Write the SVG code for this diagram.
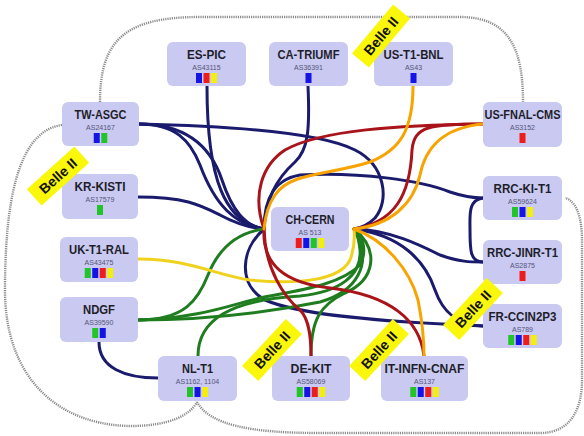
<svg xmlns="http://www.w3.org/2000/svg" width="584" height="436" viewBox="0 0 584 436">
<style>
.bg{fill:#ffffff}
.dot{fill:none;stroke:#8a8a8a;stroke-width:2.4;stroke-dasharray:1.2 1}
.c{fill:none;stroke-width:3;stroke-linecap:round}
.nv{stroke:#1b1b6e}
.rd{stroke:#a8141a}
.or{stroke:#f7a400}
.yl{stroke:#f0d21e}
.gr{stroke:#1f7d1f}
.node{fill:#c9c9f1}
.t{font-family:"Liberation Sans",Arial,sans-serif;font-weight:bold;font-size:13px;fill:#1e1e2a;text-anchor:middle}
.as{font-family:"Liberation Sans",Arial,sans-serif;font-size:7px;fill:#55557a;text-anchor:middle}
.g{fill:#22c42a}
.b{fill:#1414e6}
.r{fill:#ee1c1c}
.y{fill:#f2ee10}
.belle{fill:#fbf70a}
.bt{font-family:"Liberation Sans",Arial,sans-serif;font-weight:bold;font-size:14px;fill:#111;text-anchor:middle}
</style>
<rect class="bg" x="0" y="0" width="584" height="436"/>
<g id="outline">
<path class="dot" d="M100,102 C100,40 125,17 200,17 L460,17 C510,17 523,50 523,102"/>
<path class="dot" d="M62,125 C25,130 5,180 5,290 C5,380 60,425 130,426 C170,426 190,415 197,402"/>
<path class="dot" d="M197,402 C210,425 250,433 320,433 L540,433 C570,433 582,410 582,380 L582,240 C582,215 575,200 565,198"/>
</g>
<g id="connectors">
<path class="c nv" d="M207,86 C207,180 225,222 264,229"/>
<path class="c nv" d="M139,124 C175,124 190,140 200,165 C215,205 235,225 264,229"/>
<path class="c nv" d="M139,124 C190,124 212,150 222,180 C232,210 245,226 264,229"/>
<path class="c nv" d="M139,124 C230,126 320,132 355,150 C385,165 390,200 375,218 C368,225 360,228 354,229"/>
<path class="c nv" d="M138,197 C185,197 200,205 220,215 C235,223 250,228 264,229"/>
<path class="c nv" d="M264,229 C264,205 270,180 300,175 C360,172 420,180 450,192 C465,197 475,198 483,198"/>
<path class="c nv" d="M308,86 C310,130 308,150 295,162 C275,180 266,200 264,229"/>
<path class="c nv" d="M354,229 C390,230 420,245 440,255 C460,262 470,262 483,262"/>
<path class="c nv" d="M354,229 C400,235 425,260 435,290 C442,310 455,325 483,326"/>
<path class="c nv" d="M264,229 C240,250 238,285 265,300 C300,315 380,322 483,326"/>
<path class="c nv" d="M483,198 C468,200 470,215 470,230 C470,250 470,262 483,262"/>
<path class="c nv" d="M99,342 C99,368 125,378 158,378"/>
<path class="c gr" d="M138,320 C185,320 198,300 208,275 C220,245 240,232 264,229"/>
<path class="c gr" d="M138,320 C210,320 270,312 320,302 C355,292 375,265 354,229"/>
<path class="c gr" d="M138,320 C200,318 230,305 260,298 C300,290 340,285 360,265 C368,250 362,235 354,229"/>
<path class="c gr" d="M198,356 C198,320 230,300 300,296 C340,292 362,275 360,250 C359,240 357,233 354,229"/>
<path class="c gr" d="M311,356 C311,320 320,305 345,293 C375,280 380,250 354,229"/>
<path class="c yl" d="M138,259 C190,259 215,275 250,280 C300,285 340,280 350,260 C354,250 355,240 354,229"/>
<path class="c rd" d="M483,124 C400,125 320,130 285,150 C262,165 252,195 264,229"/>
<path class="c rd" d="M483,124 C430,124 414,126 412,150 C410,195 395,222 354,229"/>
<path class="c rd" d="M264,229 C262,265 285,283 330,288 C390,295 420,320 424,356"/>
<path class="c rd" d="M264,229 C265,270 285,298 300,310 C310,320 311,340 311,356"/>
<path class="c or" d="M413,86 C413,130 400,150 370,162 C330,175 290,172 275,195 C268,205 265,218 264,229"/>
<path class="c or" d="M483,124 C440,128 425,150 420,175 C413,205 390,225 354,229"/>
<path class="c or" d="M354,229 C385,240 410,270 418,300 C422,320 424,340 424,356"/>
</g>
<g id="es-pic"><rect class="node" x="167" y="42" width="79" height="44" rx="6"/><text class="t" x="206.5" y="59" textLength="39" lengthAdjust="spacingAndGlyphs">ES-PIC</text><text class="as" x="206.5" y="69.5">AS43115</text><rect class="b" x="196" y="73" width="6" height="10"/><rect class="r" x="203.5" y="73" width="6" height="10"/><rect class="y" x="211" y="73" width="6" height="10"/></g>
<g id="ca-triumf"><rect class="node" x="269" y="42" width="79" height="44" rx="6"/><text class="t" x="308.5" y="59" textLength="62" lengthAdjust="spacingAndGlyphs">CA-TRIUMF</text><text class="as" x="308.5" y="69.5">AS36391</text><rect class="b" x="305.5" y="73" width="6" height="10"/></g>
<g id="us-t1-bnl"><rect class="node" x="374" y="42" width="79" height="44" rx="6"/><text class="t" x="413.5" y="59" textLength="60" lengthAdjust="spacingAndGlyphs">US-T1-BNL</text><text class="as" x="413.5" y="69.5">AS43</text><rect class="b" x="410.5" y="73" width="6" height="10"/></g>
<g id="tw-asgc"><rect class="node" x="62" y="102" width="77" height="44" rx="6"/><text class="t" x="100.5" y="119" textLength="52" lengthAdjust="spacingAndGlyphs">TW-ASGC</text><text class="as" x="100.5" y="129.5">AS24167</text><rect class="b" x="93.75" y="133" width="6" height="10"/><rect class="g" x="101.25" y="133" width="6" height="10"/></g>
<g id="us-fnal-cms"><rect class="node" x="483" y="102" width="79" height="45" rx="6"/><text class="t" x="522.5" y="119" textLength="76" lengthAdjust="spacingAndGlyphs">US-FNAL-CMS</text><text class="as" x="522.5" y="129.5">AS3152</text><rect class="r" x="519.5" y="133" width="6" height="10"/></g>
<g id="kr-kisti"><rect class="node" x="62" y="174" width="76" height="45" rx="6"/><text class="t" x="100" y="191" textLength="51" lengthAdjust="spacingAndGlyphs">KR-KISTI</text><text class="as" x="100" y="201.5">AS17579</text><rect class="g" x="97" y="205" width="6" height="10"/></g>
<g id="uk-t1-ral"><rect class="node" x="60" y="237" width="78" height="45" rx="6"/><text class="t" x="99" y="254" textLength="60" lengthAdjust="spacingAndGlyphs">UK-T1-RAL</text><text class="as" x="99" y="264.5">AS43475</text><rect class="g" x="84.75" y="268" width="6" height="10"/><rect class="b" x="92.25" y="268" width="6" height="10"/><rect class="r" x="99.75" y="268" width="6" height="10"/><rect class="y" x="107.25" y="268" width="6" height="10"/></g>
<g id="ndgf"><rect class="node" x="60" y="297" width="78" height="45" rx="6"/><text class="t" x="99" y="314" textLength="32" lengthAdjust="spacingAndGlyphs">NDGF</text><text class="as" x="99" y="324.5">AS39590</text><rect class="g" x="92.25" y="328" width="6" height="10"/><rect class="b" x="99.75" y="328" width="6" height="10"/></g>
<g id="nl-t1"><rect class="node" x="158" y="356" width="79" height="45" rx="6"/><text class="t" x="197.5" y="373" textLength="31" lengthAdjust="spacingAndGlyphs">NL-T1</text><text class="as" x="197.5" y="383.5">AS1162, 1104</text><rect class="g" x="187" y="387" width="6" height="10"/><rect class="b" x="194.5" y="387" width="6" height="10"/><rect class="y" x="202" y="387" width="6" height="10"/></g>
<g id="de-kit"><rect class="node" x="272" y="356" width="78" height="45" rx="6"/><text class="t" x="311" y="373" textLength="41" lengthAdjust="spacingAndGlyphs">DE-KIT</text><text class="as" x="311" y="383.5">AS58069</text><rect class="g" x="296.75" y="387" width="6" height="10"/><rect class="b" x="304.25" y="387" width="6" height="10"/><rect class="r" x="311.75" y="387" width="6" height="10"/><rect class="y" x="319.25" y="387" width="6" height="10"/></g>
<g id="it-infn-cnaf"><rect class="node" x="381" y="356" width="87" height="45" rx="6"/><text class="t" x="424.5" y="373" textLength="80" lengthAdjust="spacingAndGlyphs">IT-INFN-CNAF</text><text class="as" x="424.5" y="383.5">AS137</text><rect class="g" x="410.25" y="387" width="6" height="10"/><rect class="b" x="417.75" y="387" width="6" height="10"/><rect class="r" x="425.25" y="387" width="6" height="10"/><rect class="y" x="432.75" y="387" width="6" height="10"/></g>
<g id="fr-ccin2p3"><rect class="node" x="483" y="304" width="79" height="44" rx="6"/><text class="t" x="522.5" y="321" textLength="68" lengthAdjust="spacingAndGlyphs">FR-CCIN2P3</text><text class="as" x="522.5" y="331.5">AS789</text><rect class="g" x="508.25" y="335" width="6" height="10"/><rect class="b" x="515.75" y="335" width="6" height="10"/><rect class="r" x="523.25" y="335" width="6" height="10"/><rect class="y" x="530.75" y="335" width="6" height="10"/></g>
<g id="rrc-ki-t1"><rect class="node" x="483" y="176" width="79" height="44" rx="6"/><text class="t" x="522.5" y="193" textLength="58" lengthAdjust="spacingAndGlyphs">RRC-KI-T1</text><text class="as" x="522.5" y="203.5">AS59624</text><rect class="g" x="512" y="207" width="6" height="10"/><rect class="b" x="519.5" y="207" width="6" height="10"/><rect class="y" x="527" y="207" width="6" height="10"/></g>
<g id="rrc-jinr-t1"><rect class="node" x="483" y="240" width="79" height="44" rx="6"/><text class="t" x="522.5" y="257" textLength="71" lengthAdjust="spacingAndGlyphs">RRC-JINR-T1</text><text class="as" x="522.5" y="267.5">AS2875</text><rect class="r" x="519.5" y="271" width="6" height="10"/></g>
<g id="ch-cern"><rect class="node" x="271" y="207" width="78" height="44" rx="6"/><text class="t" x="310" y="224" textLength="49" lengthAdjust="spacingAndGlyphs">CH-CERN</text><text class="as" x="310" y="234.5">AS 513</text><rect class="r" x="295.75" y="238" width="6" height="10"/><rect class="b" x="303.25" y="238" width="6" height="10"/><rect class="g" x="310.75" y="238" width="6" height="10"/><rect class="y" x="318.25" y="238" width="6" height="10"/></g>
<g id="belle-top" transform="translate(381,36) rotate(-50)"><rect class="belle" x="-32" y="-11" width="64" height="22"/><text class="bt" x="0" y="5">Belle II</text></g>
<g id="belle-left" transform="translate(58,176) rotate(-42)"><rect class="belle" x="-32" y="-11" width="64" height="22"/><text class="bt" x="0" y="5">Belle II</text></g>
<g id="belle-nl" transform="translate(272,350) rotate(-47)"><rect class="belle" x="-32" y="-11" width="64" height="22"/><text class="bt" x="0" y="5">Belle II</text></g>
<g id="belle-it" transform="translate(379,350) rotate(-47)"><rect class="belle" x="-32" y="-11" width="64" height="22"/><text class="bt" x="0" y="5">Belle II</text></g>
<g id="belle-fr" transform="translate(473,309) rotate(-47)"><rect class="belle" x="-32" y="-11" width="64" height="22"/><text class="bt" x="0" y="5">Belle II</text></g>
</svg>
